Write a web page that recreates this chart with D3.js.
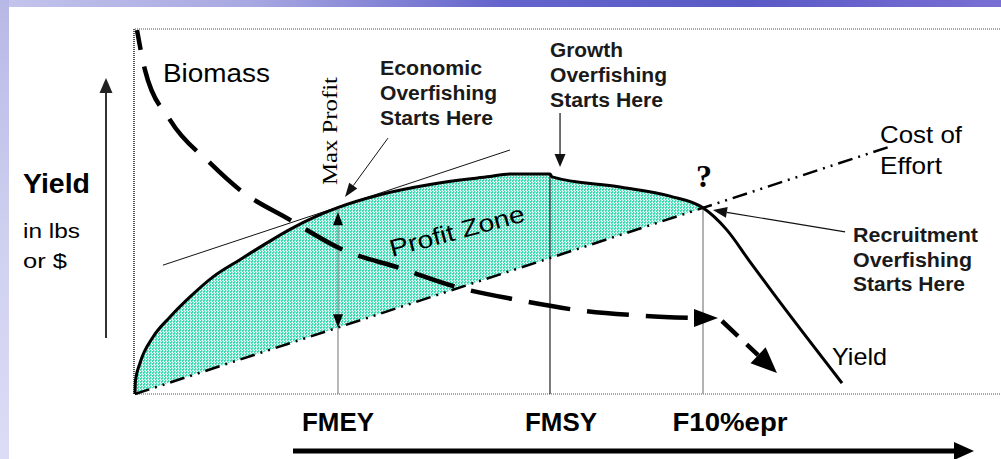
<!DOCTYPE html>
<html><head><meta charset="utf-8">
<script src="https://cdn.jsdelivr.net/npm/d3@7"></script>
<style>html,body{margin:0;padding:0;background:#fff;overflow:hidden}svg{display:block}</style>
</head><body><svg id="c" width="1001" height="459"></svg>
<script>
// ---- data (effort on x, value on y, arbitrary 0-100 units) ----
const effort   = [0, 0.06, 0.58, 2.08, 4.04, 6.35, 9.01, 12.12, 15.24, 17.90, 20.78, 23.33, 28.29, 34.06, 40.65, 43.30, 47.92, 48.15, 56.00, 61.78, 65.59, 68.36, 71.02, 73.67, 81.64];
const yieldVal = [0, 3.8, 8.5, 15.6, 21.1, 26.6, 32.1, 36.8, 41.4, 45.1, 48.5, 51.0, 54.6, 57.4, 59.5, 60.3, 60.3, 59.5, 56.7, 54.2, 51.0, 44.9, 36.2, 27.7, 3.0];
const bioEffort = [0.23, 1.15, 4.04, 8.66, 12.12, 17.90, 24.02, 30.60, 37.18, 44.11, 51.04, 57.51, 64.67, 67.32];
const bioVal    = [99.7, 88.8, 75.1, 63.3, 55.9, 47.7, 39.5, 34.5, 29.3, 25.8, 23.0, 21.6, 20.8, 20.8];
const bioDropEffort = [67.78, 74.13];
const bioDropVal    = [20.0, 5.75];
const costEffort = [0, 87.2];
const costVal    = [0, 67.8];
const tangentEffort = [3.23, 43.30];
const tangentVal    = [35.3, 66.85];
const refNames  = ["FMEY", "FMSY", "F10%epr"];
const refEffort = [23.44, 47.92, 65.59];
const maxProfitVal = [49.8, 18.3];

const svg = d3.select("#c");
const W = 1001, H = 459;
const x = d3.scaleLinear().domain([0, 100]).range([135, 1001]);
const y = d3.scaleLinear().domain([0, 100]).range([394, 29]);

// ---- background ----
const defs = svg.append("defs");
const tg = defs.append("linearGradient").attr("id","topg").attr("x1","0").attr("x2","1").attr("y1","0").attr("y2","0");
[[0,"#c4c4ec"],[0.25,"#a8a8e2"],[0.5,"#6464cc"],[0.75,"#5a5ac6"],[1,"#7a6fd4"]].forEach(s=>tg.append("stop").attr("offset",s[0]).attr("stop-color",s[1]));
const lg = defs.append("linearGradient").attr("id","leftg").attr("x1","0").attr("x2","0").attr("y1","0").attr("y2","1");
[[0,"#b8b8e6"],[0.5,"#cfcff0"],[1,"#dcdcf6"]].forEach(s=>lg.append("stop").attr("offset",s[0]).attr("stop-color",s[1]));
const pat = defs.append("pattern").attr("id","dots").attr("patternUnits","userSpaceOnUse").attr("width",3).attr("height",3);
pat.append("rect").attr("width",3).attr("height",3).attr("fill","#ffffff");
const tile = [["#3cd6b0","#a6f0e0","#3cd6b0"],["#a6f0e0","#ffffff","#48dab6"],["#3cd6b0","#a6f0e0","#ffffff"]];
tile.forEach((row,r)=>row.forEach((c,k)=>pat.append("rect").attr("x",k).attr("y",r).attr("width",1).attr("height",1).attr("fill",c)));

svg.append("rect").attr("width",W).attr("height",H).attr("fill","#fff");
svg.append("rect").attr("x",0).attr("y",0).attr("width",W).attr("height",7).attr("fill","url(#topg)");
svg.append("rect").attr("x",0).attr("y",0).attr("width",9).attr("height",H).attr("fill","url(#leftg)");

const line = d3.line().x(d=>x(d[0])).y(d=>y(d[1]));
const curve = d3.line().x(d=>x(d[0])).y(d=>y(d[1])).curve(d3.curveMonotoneX);

// ---- frame ----
svg.append("line").attr("x1",x(0)).attr("x2",W).attr("y1",y(100)).attr("y2",y(100))
  .attr("stroke","#a8a8a8").attr("stroke-width",2).attr("stroke-dasharray","1,1");
svg.append("line").attr("x1",x(0)).attr("x2",W).attr("y1",y(0)).attr("y2",y(0))
  .attr("stroke","#a8a8a8").attr("stroke-width",2).attr("stroke-dasharray","1,1");
svg.append("line").attr("x1",x(0)-1).attr("x2",x(0)-1).attr("y1",y(100)).attr("y2",y(0))
  .attr("stroke","#555").attr("stroke-width",2).attr("stroke-dasharray","1,1");

// ---- profit zone fill ----
const yieldPts = effort.map((e,i)=>[e, yieldVal[i]]);
const zonePts = yieldPts.filter(d=>d[0] <= refEffort[2] + 1e-9);
svg.append("path").attr("d", curve(zonePts) + `L${x(costEffort[0])},${y(costVal[0])}Z`)
  .attr("fill","url(#dots)");

// ---- reference verticals ----
const refColor = ["#8a8a8a","#222","#a0a0a0"];
const refW = [1.2, 1.2, 1.6];
const yieldAt = e => {
  for (let i=1;i<effort.length;i++){ if (e<=effort[i]){ const t=(e-effort[i-1])/(effort[i]-effort[i-1]); return yieldVal[i-1]+t*(yieldVal[i]-yieldVal[i-1]); } }
  return 0; };
refEffort.forEach((e,i)=>{
  svg.append("line").attr("x1",x(e)).attr("x2",x(e)).attr("y1",y(0)).attr("y2",y(yieldAt(e)))
    .attr("stroke",refColor[i]).attr("stroke-width",refW[i]);
});

// ---- tangent ----
svg.append("path").attr("d", line(tangentEffort.map((e,i)=>[e,tangentVal[i]])))
  .attr("fill","none").attr("stroke","#111").attr("stroke-width",1);

// ---- cost of effort ----
svg.append("path").attr("d", line(costEffort.map((e,i)=>[e,costVal[i]])))
  .attr("fill","none").attr("stroke","#000").attr("stroke-width",2.5)
  .attr("stroke-dasharray","15,6,2,6,2,6");

// ---- yield curve ----
svg.append("path").attr("d", curve(yieldPts)).attr("fill","none").attr("stroke","#000").attr("stroke-width",3);

function head(tip, from, len, hw, fill){
  const dx = tip[0]-from[0], dy = tip[1]-from[1], L = Math.hypot(dx,dy);
  const ux = dx/L, uy = dy/L;
  const bx = tip[0]-ux*len, by = tip[1]-uy*len;
  svg.append("path").attr("d",`M${tip[0]},${tip[1]}L${bx-uy*hw},${by+ux*hw}L${bx+uy*hw},${by-ux*hw}Z`)
    .attr("fill",fill||"#000");
  return [bx,by];
}
function arrow(p0, p1, w, len, hw, color){
  const a=[x(p0[0]),y(p0[1])], b=[x(p1[0]),y(p1[1])];
  const base = head(b, a, len, hw, color);
  svg.append("line").attr("x1",a[0]).attr("y1",a[1]).attr("x2",base[0]).attr("y2",base[1])
    .attr("stroke",color||"#000").attr("stroke-width",w);
}

// ---- biomass ----
const bioPts = bioEffort.map((e,i)=>[e,bioVal[i]]);
const tipB = bioPts[bioPts.length-1];
svg.append("path").attr("d", curve(bioPts.slice(0,-1)))
  .attr("fill","none").attr("stroke","#000").attr("stroke-width",4.5)
  .attr("stroke-dasharray","42,17").attr("stroke-dashoffset",22);
head([x(tipB[0]),y(tipB[1])],[x(bioPts[bioPts.length-2][0]),y(bioPts[bioPts.length-2][1])],24,9);
{
  const a=[x(bioDropEffort[0]),y(bioDropVal[0])], b=[x(bioDropEffort[1]),y(bioDropVal[1])];
  const base = head(b,a,26,11);
  svg.append("line").attr("x1",a[0]).attr("y1",a[1]).attr("x2",base[0]).attr("y2",base[1])
    .attr("stroke","#000").attr("stroke-width",4.5).attr("stroke-dasharray","22,12");
}

// ---- max profit double arrow ----
{
  const xm = x(refEffort[0]);
  const t=[xm,y(maxProfitVal[0])], b=[xm,y(maxProfitVal[1])];
  head(t,b,13,5); head(b,t,13,5);
}

// ---- annotation arrows ----
arrow([29.21,70.1],[24.25,54.0],1,14,5,"#111");
arrow([49.08,77.0],[49.08,62.2],1.2,13,5.5,"#111");
arrow([82.0,44.4],[66.74,50.4],1.2,14,5.5,"#111");

// ---- axis arrows ----
svg.append("line").attr("x1",106).attr("x2",106).attr("y1",338).attr("y2",92).attr("stroke","#333").attr("stroke-width",2);
svg.append("path").attr("d","M106,78L99.5,93L112.5,93Z").attr("fill","#222");
svg.append("line").attr("x1",293).attr("x2",956).attr("y1",451).attr("y2",451).attr("stroke","#000").attr("stroke-width",5);
svg.append("path").attr("d","M974,451L954,442L954,460Z").attr("fill","#000");

// ---- text ----
function txt(s, px, py, opts){
  const t = svg.append("text").attr("x",px).attr("y",py).text(s)
    .attr("font-family", opts.family || "Liberation Sans, Arial, sans-serif")
    .attr("font-size", opts.size).attr("font-weight", opts.weight || "normal")
    .attr("fill", opts.fill || "#000");
  if (opts.anchor) t.attr("text-anchor", opts.anchor);
  if (opts.len) t.attr("textLength", opts.len).attr("lengthAdjust","spacingAndGlyphs");
  if (opts.transform) t.attr("transform", opts.transform);
  return t;
}
const ann = {size:20, weight:"bold", fill:"#1a1a1a"};
txt("Economic", 380, 75, {...ann, len:102});
txt("Overfishing", 380, 100, {...ann, len:117});
txt("Starts Here", 380, 125, {...ann, len:113});
txt("Growth", 550, 57, {...ann, len:73});
txt("Overfishing", 550, 82, {...ann, len:117});
txt("Starts Here", 550, 107, {...ann, len:113});
txt("Recruitment", 853, 242, {...ann, len:125});
txt("Overfishing", 853, 267, {...ann, len:119});
txt("Starts Here", 853, 291, {...ann, len:112});
txt("Cost of", 880, 143, {size:24, len:82});
txt("Effort", 880, 174, {size:24, len:62});
txt("Biomass", 163, 82, {size:26, len:107});
txt("Yield", 832, 365, {size:24, len:55});
txt("Yield", 23, 193, {size:27, weight:"bold", len:67});
txt("in lbs", 23, 238, {size:21, len:57});
txt("or $", 23, 268, {size:21, len:44});
txt("Profit Zone", 0, 0, {size:24, len:139, transform:"translate(392,257) rotate(-15)"});
txt("Max Profit", 0, 0, {size:22, family:"Liberation Serif, Times New Roman, serif", len:108, transform:"translate(337,185) rotate(-90)"});
txt("?", 704, 187, {size:32, weight:"bold", family:"Liberation Serif, Times New Roman, serif", anchor:"middle"});

const refDx = [0, 11, 27];
const refLen = [72, 72, 115];
refNames.forEach((n,i)=>{
  txt(n, x(refEffort[i]) + refDx[i], 431, {size:26, weight:"bold", anchor:"middle", len:refLen[i]});
});
</script></body></html>
